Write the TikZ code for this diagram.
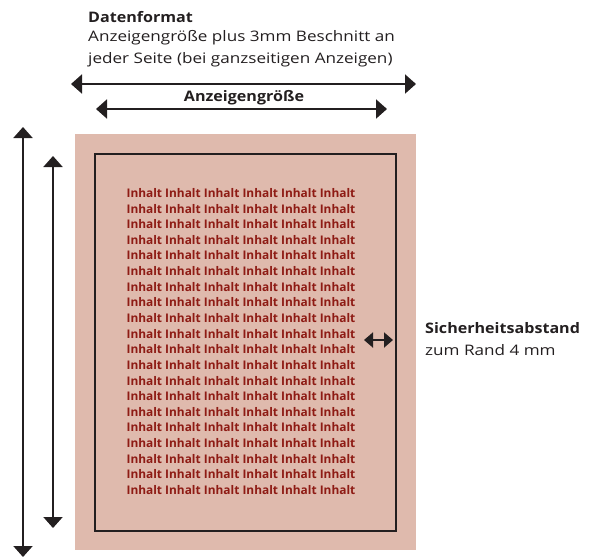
\documentclass[tikz,border=0pt]{standalone}
\usepackage{fontspec}
\setmainfont{Open Sans}
\newfontfamily\labelfont[FakeStretch=1.18, BoldFeatures={FakeStretch=1.11}]{Open Sans}
\usetikzlibrary{arrows.meta}
\definecolor{pinkbg}{HTML}{DFBAAD}
\definecolor{inhaltred}{HTML}{8E1B14}
\definecolor{darkline}{HTML}{231F20}
\tikzset{
  dim/.style={draw=darkline, line width=2pt, {Triangle[length=11pt,width=19pt]}-{Triangle[length=11pt,width=19pt]}},
  small dim/.style={draw=darkline, line width=2pt, {Triangle[length=9pt,width=15pt]}-{Triangle[length=9pt,width=15pt]}},
  label/.style={inner sep=0pt, anchor=west, font=\labelfont\fontsize{14.5}{17}\selectfont, text=darkline},
  boldlabel/.style={label, font=\labelfont\fontsize{14.5}{17}\selectfont\bfseries},
  inhalt/.style={inner sep=0pt, text=inhaltred, font=\fontsize{11.9}{12}\selectfont\bfseries},
}
\begin{document}
\begin{tikzpicture}[x=1pt,y=-1pt]
\useasboundingbox (0,0) rectangle (592,558);
% bleed area
\fill[pinkbg] (75,134) rectangle (416,550);
% ad size frame
\draw[darkline, line width=2pt] (95,154) rectangle (396,531);
% content grid
\foreach \i in {0,...,19}{
  \node[inhalt] (row\i) at (241,{193+\i*15.63}) {Inhalt Inhalt Inhalt Inhalt Inhalt Inhalt};
}
% top texts
\node[boldlabel] (title) at (88,17) {Datenformat};
\node[label] (line1) at (88,38) {Anzeigengröße plus 3mm Beschnitt an};
\node[label] (line2) at (88,60) {jeder Seite (bei ganzseitigen Anzeigen)};
% horizontal dimension arrows
\coordinate (hL1) at (71,84);
\coordinate (hR1) at (416,84);
\draw[dim] (hL1) -- (hR1);
\node[boldlabel, anchor=center] (adsize) at (244,98) {Anzeigengröße};
\coordinate (hL2) at (96,109);
\coordinate (hR2) at (387,109);
\draw[dim] (hL2) -- (hR2);
% vertical dimension arrows
\coordinate (vT1) at (23,127);
\coordinate (vB1) at (23,557);
\draw[dim] (vT1) -- (vB1);
\coordinate (vT2) at (53,156);
\coordinate (vB2) at (53,528);
\draw[dim] (vT2) -- (vB2);
% safety margin
\coordinate (sL) at (364,340);
\coordinate (sR) at (393,340);
\draw[small dim] (sL) -- (sR);
\node[boldlabel] (safe1) at (425,328) {Sicherheitsabstand};
\node[label] (safe2) at (425,350) {zum Rand 4 mm};
\end{tikzpicture}
\end{document}
